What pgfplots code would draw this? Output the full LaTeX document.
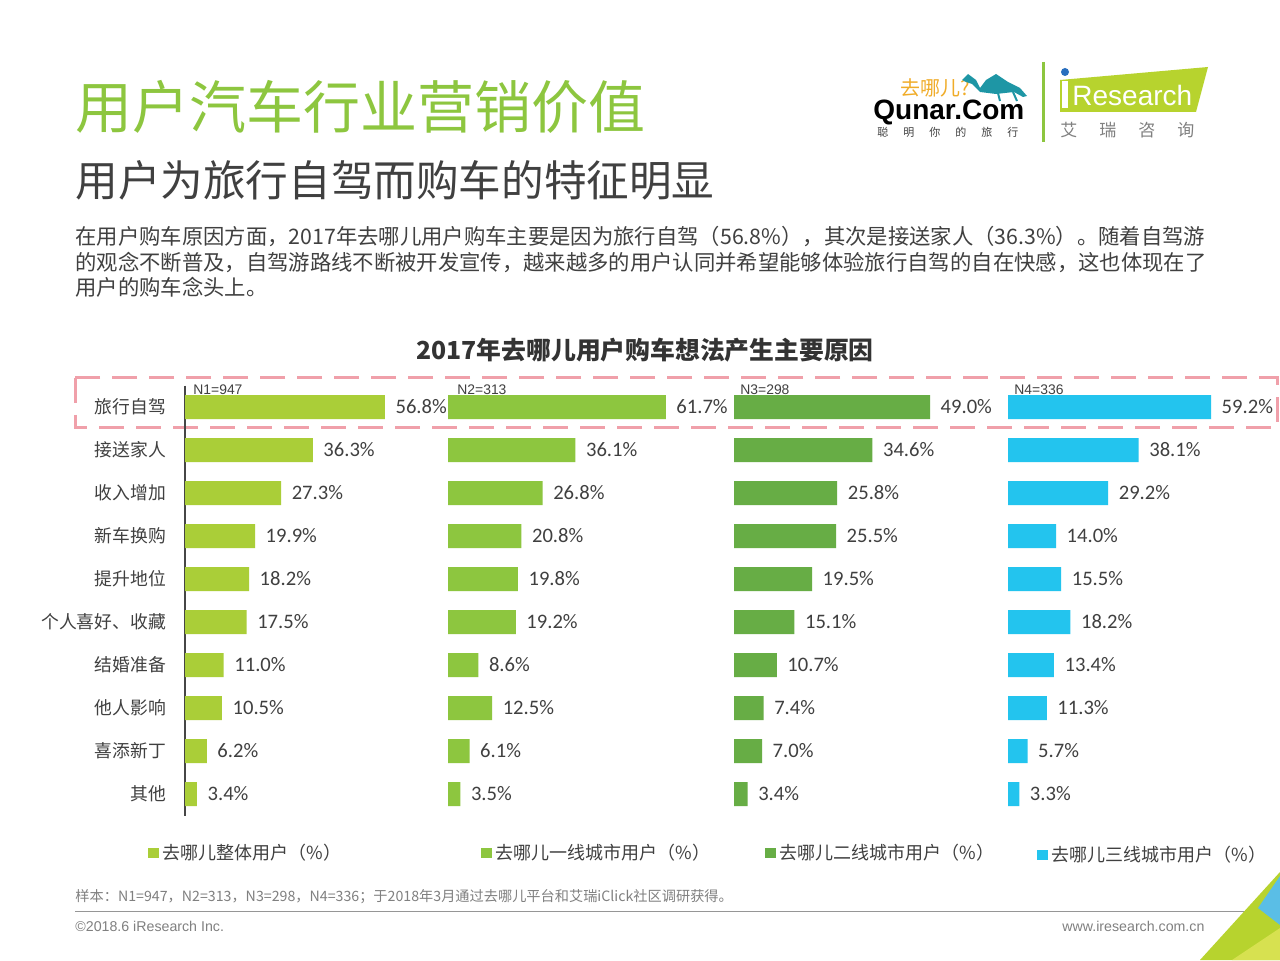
\documentclass[border=0pt]{standalone}
\usepackage{fontspec}
\usepackage{pgfplots}
\pgfplotsset{compat=1.18}
\setmainfont{Noto Sans CJK SC}
\newfontfamily\carlito{Carlito}
\newfontfamily\arial{Liberation Sans}
\definecolor{cA}{RGB}{170,206,56}
\definecolor{cB}{RGB}{141,198,63}
\definecolor{cC}{RGB}{103,173,69}
\definecolor{cD}{RGB}{35,196,238}
\definecolor{tgreen}{RGB}{141,198,63}
\definecolor{txt}{RGB}{64,64,64}
\definecolor{dtxt}{RGB}{51,51,51}
\definecolor{pinkd}{RGB}{240,160,170}
\definecolor{lime}{RGB}{183,211,46}
\definecolor{foot}{RGB}{128,128,128}
\definecolor{footline}{RGB}{150,150,150}
\definecolor{orangeq}{RGB}{240,172,40}
\definecolor{camel}{RGB}{30,150,165}
\definecolor{idot}{RGB}{40,110,190}
\definecolor{decoblue}{RGB}{90,190,230}
\definecolor{decoyel}{RGB}{215,225,80}
\definecolor{axline}{RGB}{70,70,70}
\pgfplotsset{
 barax/.style={
  xbar, y dir=reverse, ymin=-0.5, ymax=9.5, xmin=0, xmax=62,
  y=21.5pt, bar width=12pt, clip=false, anchor=north west,
  axis x line=none, ytick=\empty, xtick=\empty,
  /pgf/number format/assume math mode=true,
  nodes near coords={\pgfmathprintnumber[fixed,fixed zerofill,precision=1,assume math mode=true]{\pgfplotspointmeta}\%},
  nodes near coords style={font=\carlito\fontsize{10.3}{11}\selectfont, text=txt, anchor=west, xshift=1.8pt},
  legend style={draw=none, fill=none, font=\fontsize{9}{10}\selectfont, text=txt, inner sep=0pt, anchor=west, legend cell align=left},
  legend image code/.code={\fill[##1] (0pt,-2.6pt) rectangle (5.2pt,2.6pt);},
 }
}
\begin{document}
\begin{tikzpicture}
\useasboundingbox (0pt,0pt) rectangle (640pt,480pt);
\fill[white] (0pt,0pt) rectangle (640pt,480pt);
\begin{scope}[shift={(0pt,480pt)}, x=0.5pt, y=-0.5pt]
 % titles
 \node[anchor=west, inner sep=0, text=tgreen, font=\fontsize{28.5}{30}\selectfont] at (75,107) {用户汽车行业营销价值};
 \node[anchor=west, inner sep=0, text=txt, font=\fontsize{21.3}{23}\selectfont] at (75,180) {用户为旅行自驾而购车的特征明显};
 \node[anchor=north west, inner sep=0, align=left, text=txt, font=\fontsize{10.67}{12.75}\selectfont] at (75,226)
 {在用户购车原因方面，2017年去哪儿用户购车主要是因为旅行自驾（56.8\%），其次是接送家人（36.3\%）。随着自驾游\\
 的观念不断普及，自驾游路线不断被开发宣传，越来越多的用户认同并希望能够体验旅行自驾的自在快感，这也体现在了\\
 用户的购车念头上。};
 \node[inner sep=0, text=dtxt, font=\bfseries\fontsize{12.4}{12}\selectfont] at (645,350) {2017年去哪儿用户购车想法产生主要原因};
 % highlight box
 \draw[pinkd, line width=1.5pt, dash pattern=on 12.5pt off 6pt] (75,378) rectangle (1277,428);
 % logos
 \node[anchor=west, inner sep=0, text=orangeq, font=\fontsize{10}{10}\selectfont] at (900,88) {去哪儿?};
 \node[anchor=west, inner sep=0, font=\arial\bfseries\fontsize{14}{14}\selectfont] at (873,112) {Qunar.Com};
 \node[anchor=west, inner sep=0, text=txt, font=\fontsize{5.5}{6}\selectfont] at (877,132) {聪\hspace{7.5pt}明\hspace{7.5pt}你\hspace{7.5pt}的\hspace{7.5pt}旅\hspace{7.5pt}行};
 \fill[camel] (962,80) -- (968,74) -- (976,80) -- (980,88) -- (986,80) -- (996,74) -- (1008,82) -- (1020,88) -- (1027,96) -- (1023,97) -- (1014,92) -- (996,94) -- (980,92) -- (972,84) -- (966,82) -- cycle;
 \draw[camel, line width=1pt] (998,93) -- (1000,101) (1013,92) -- (1017,101);
 \draw[tgreen, line width=1.5pt] (1043,62) -- (1043,142);
 \fill[lime] (1060,80) -- (1208,67) -- (1196,112) -- (1060,112) -- cycle;
 \fill[idot] (1065,72) circle (4);
 \fill[white] (1062,81) rectangle (1068,108);
 \node[anchor=west, inner sep=0, text=white, font=\arial\fontsize{14}{14}\selectfont] at (1072,95) {Research};
 \node[anchor=west, inner sep=0, text=foot, font=\fontsize{8.5}{9}\selectfont] at (1060,130) {艾\hspace{11pt}瑞\hspace{11pt}咨\hspace{11pt}询};
 % footer
 \node[anchor=west, inner sep=0, text=foot, font=\fontsize{7.1}{7}\selectfont] at (75,897) {样本：N1=947，N2=313，N3=298，N4=336；于2018年3月通过去哪儿平台和艾瑞iClick社区调研获得。};
 \draw[footline, line width=0.5pt] (75,911) -- (1262,911);
 \node[anchor=west, inner sep=0, text=foot, font=\arial\fontsize{7.1}{7}\selectfont] at (75,926) {©2018.6 iResearch Inc.};
 \node[anchor=west, inner sep=0, text=foot, font=\arial\fontsize{7.1}{7}\selectfont] at (1062,926) {www.iresearch.com.cn};
 \fill[lime] (1280,872) -- (1280,960) -- (1200,960) -- cycle;
 \fill[decoblue] (1280,876) -- (1280,925) -- (1258,908) -- cycle;
 \fill[decoyel] (1232,960) -- (1280,928) -- (1280,960) -- cycle;
\end{scope}

% axis 1
\begin{axis}[barax, x=1.76pt, at={(92.5pt,287.25pt)},
  axis y line*=left, y axis line style={-, draw=axline, line width=0.6pt},
  ytick={0,...,9}, major tick length=0pt,
  yticklabels={旅行自驾,接送家人,收入增加,新车换购,提升地位,个人喜好、收藏,结婚准备,他人影响,喜添新丁,其他},
  yticklabel style={font=\fontsize{8.9}{10}\selectfont, text=txt, xshift=-6pt},
  legend style={at={(axis cs:-10.5,10.37)}}]
\addplot[fill=cA, draw=none] coordinates {(56.8,0) (36.3,1) (27.3,2) (19.9,3) (18.2,4) (17.5,5) (11.0,6) (10.5,7) (6.2,8) (3.4,9)};
\addlegendentry{去哪儿整体用户（\%）}
\node[anchor=base west, inner sep=0, text=txt, font=\arial\fontsize{6.95}{7}\selectfont] at (axis cs:2.27,-0.30) {N1=947};
\end{axis}

% axis 2
\begin{axis}[barax, x=1.765pt, at={(224pt,287.25pt)}, axis y line=none,
  legend style={at={(axis cs:9.35,10.37)}}]
\addplot[fill=cB, draw=none] coordinates {(61.7,0) (36.1,1) (26.8,2) (20.8,3) (19.8,4) (19.2,5) (8.6,6) (12.5,7) (6.1,8) (3.5,9)};
\addlegendentry{去哪儿一线城市用户（\%）}
\node[anchor=base west, inner sep=0, text=txt, font=\arial\fontsize{6.95}{7}\selectfont] at (axis cs:2.55,-0.30) {N2=313};
\end{axis}

% axis 3
\begin{axis}[barax, x=2.0pt, at={(367pt,287.25pt)}, axis y line=none,
  legend style={at={(axis cs:7.75,10.37)}}]
\addplot[fill=cC, draw=none] coordinates {(49.0,0) (34.6,1) (25.8,2) (25.5,3) (19.5,4) (15.1,5) (10.7,6) (7.4,7) (7.0,8) (3.4,9)};
\addlegendentry{去哪儿二线城市用户（\%）}
\node[anchor=base west, inner sep=0, text=txt, font=\arial\fontsize{6.95}{7}\selectfont] at (axis cs:1.5,-0.30) {N3=298};
\end{axis}

% axis 4
\begin{axis}[barax, x=1.715pt, at={(504pt,287.25pt)}, axis y line=none,
  legend style={at={(axis cs:8.45,10.42)}}]
\addplot[fill=cD, draw=none] coordinates {(59.2,0) (38.1,1) (29.2,2) (14.0,3) (15.5,4) (18.2,5) (13.4,6) (11.3,7) (5.7,8) (3.3,9)};
\addlegendentry{去哪儿三线城市用户（\%）}
\node[anchor=base west, inner sep=0, text=txt, font=\arial\fontsize{6.95}{7}\selectfont] at (axis cs:1.75,-0.30) {N4=336};
\end{axis}
\end{tikzpicture}
\end{document}
